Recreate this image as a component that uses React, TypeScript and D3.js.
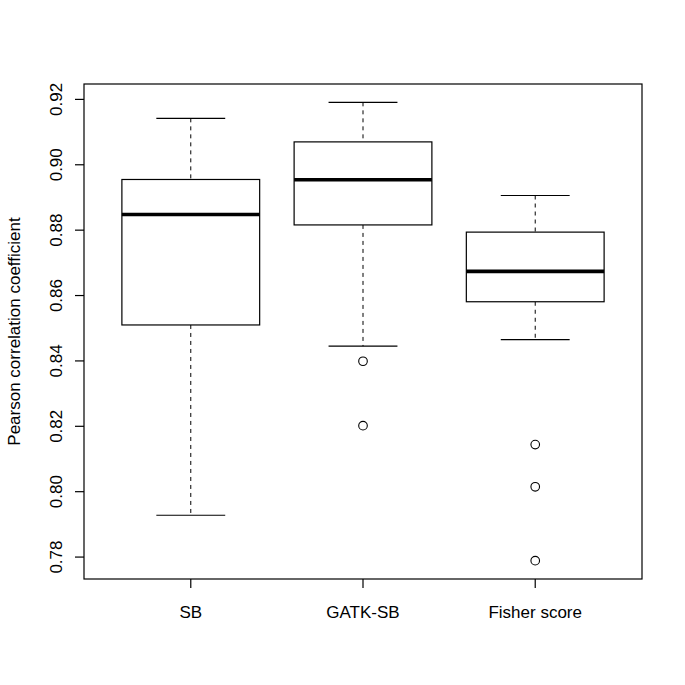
import React from "react";
import * as d3 from "d3";

const width = 685;
const height = 685;
const margin = { top: 84, right: 43, bottom: 106, left: 84 };

// five-number summaries
const categories = ["SB", "GATK-SB", "Fisher score"];
const lowerWhisker = [0.7928, 0.8445, 0.8465];
const lowerQuartile = [0.851, 0.8816, 0.8581];
const medians = [0.8848, 0.8954, 0.8674];
const upperQuartile = [0.8955, 0.907, 0.8794];
const upperWhisker = [0.9142, 0.9191, 0.8906];
const outliers = [[], [0.8399, 0.8202], [0.8144, 0.8015, 0.7789]];

const yTicks = [0.78, 0.8, 0.82, 0.84, 0.86, 0.88, 0.9, 0.92];
const yTitle = "Pearson correlation coefficient";

const font = "'Liberation Sans', Arial, sans-serif";
const fontSize = 17;

export default function App() {
  const x0 = margin.left;
  const x1 = width - margin.right;
  const y0 = height - margin.bottom;
  const y1 = margin.top;

  // R style: group positions 1..n, axis padded 4% each side
  const n = categories.length;
  const xPad = n * 0.04;
  const xScale = d3.scaleLinear().domain([0.5 - xPad, n + 0.5 + xPad]).range([x0, x1]);

  const allVals = [...lowerWhisker, ...upperWhisker, ...outliers.flat()];
  const [lo, hi] = d3.extent(allVals) as [number, number];
  const yPad = (hi - lo) * 0.04;
  const yScale = d3.scaleLinear().domain([lo - yPad, hi + yPad]).range([y0, y1]);

  const boxHalf = xScale(1.4) - xScale(1);
  const capHalf = boxHalf / 2;
  const fmt = d3.format(".2f");

  return (
    <svg
      width={width}
      height={height}
      style={{ position: "absolute", left: 0, top: 0, background: "#fff" }}
    >
      <rect x={0} y={0} width={width} height={height} fill="#fff" />

      {categories.map((c, i) => {
        const cx = xScale(i + 1);
        return (
          <g key={c} stroke="#000" fill="none">
            {/* whiskers */}
            <line
              x1={cx}
              x2={cx}
              y1={yScale(upperWhisker[i])}
              y2={yScale(upperQuartile[i])}
              strokeDasharray="4,4"
              strokeWidth={1}
            />
            <line
              x1={cx}
              x2={cx}
              y1={yScale(lowerQuartile[i])}
              y2={yScale(lowerWhisker[i])}
              strokeDasharray="4,4"
              strokeWidth={1}
            />
            <line
              x1={cx - capHalf}
              x2={cx + capHalf}
              y1={yScale(upperWhisker[i])}
              y2={yScale(upperWhisker[i])}
              strokeWidth={1.2}
            />
            <line
              x1={cx - capHalf}
              x2={cx + capHalf}
              y1={yScale(lowerWhisker[i])}
              y2={yScale(lowerWhisker[i])}
              strokeWidth={1.2}
            />
            {/* box */}
            <rect
              x={cx - boxHalf}
              y={yScale(upperQuartile[i])}
              width={boxHalf * 2}
              height={yScale(lowerQuartile[i]) - yScale(upperQuartile[i])}
              fill="#fff"
              strokeWidth={1.2}
            />
            <line
              x1={cx - boxHalf}
              x2={cx + boxHalf}
              y1={yScale(medians[i])}
              y2={yScale(medians[i])}
              strokeWidth={3.6}
            />
            {outliers[i].map((v, j) => (
              <circle key={j} cx={cx} cy={yScale(v)} r={4.3} strokeWidth={1.1} />
            ))}
          </g>
        );
      })}

      {/* frame */}
      <rect x={x0} y={y1} width={x1 - x0} height={y0 - y1} fill="none" stroke="#000" strokeWidth={1.2} />

      {/* y axis */}
      {yTicks.map((t) => (
        <g key={t}>
          <line x1={x0 - 9} x2={x0} y1={yScale(t)} y2={yScale(t)} stroke="#000" strokeWidth={1.2} />
          <text
            transform={`translate(62, ${yScale(t)}) rotate(-90)`}
            textAnchor="middle"
            fontFamily={font}
            fontSize={fontSize}
            fill="#000"
          >
            {fmt(t)}
          </text>
        </g>
      ))}
      <text
        transform={`translate(19.5, ${(y0 + y1) / 2}) rotate(-90)`}
        textAnchor="middle"
        fontFamily={font}
        fontSize={fontSize}
        fill="#000"
      >
        {yTitle}
      </text>

      {/* x axis */}
      {categories.map((c, i) => (
        <g key={c}>
          <line x1={xScale(i + 1)} x2={xScale(i + 1)} y1={y0} y2={y0 + 9} stroke="#000" strokeWidth={1.2} />
          <text
            x={xScale(i + 1)}
            y={617.5}
            textAnchor="middle"
            fontFamily={font}
            fontSize={fontSize}
            fill="#000"
          >
            {c}
          </text>
        </g>
      ))}
    </svg>
  );
}
